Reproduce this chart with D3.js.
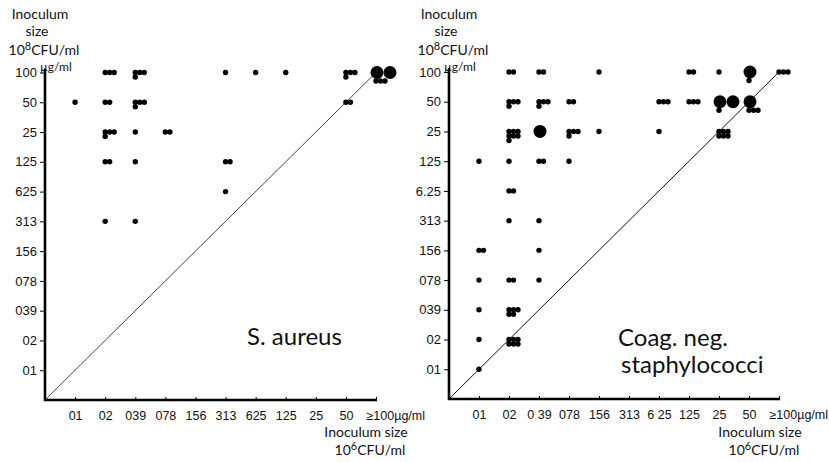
<!DOCTYPE html>
<html>
<head>
<meta charset="utf-8">
<script src="https://cdn.jsdelivr.net/npm/d3@7"></script>
<style>
  body { margin: 0; background: #fff; }
  svg { display: block; font-family: Lato, "DejaVu Sans", sans-serif; }
  text { fill: #111; }
</style>
</head>
<body>
<svg id="chart" width="829" height="462"></svg>
<script>
// tick labels as printed (decimal points lost in the original print)
var xLabelsAureus = ["01", "02", "039", "078", "156", "313", "625", "125", "25", "50", "\u2265100\u00b5g/ml"];
var yLabelsAureus = ["01", "02", "039", "078", "156", "313", "625", "125", "25", "50", "100"];
var xLabelsCoag = ["01", "02", "0 39", "078", "156", "313", "6 25", "125", "25", "50", "\u2265100\u00b5g/ml"];
var yLabelsCoag = ["01", "02", "039", "078", "156", "313", "6.25", "125", "25", "50", "100"];

// [x step, y step, small dots, big dots]  (step 1 = 0.1 ... step 11 = 100)
var aureusCells = [
    [2, 11, 3, 0], [3, 11, 4, 0], [6, 11, 1, 0], [7, 11, 1, 0], [8, 11, 1, 0], [10, 11, 4, 0], [11, 11, 3, 2],
    [1, 10, 1, 0], [2, 10, 2, 0], [3, 10, 4, 0], [10, 10, 2, 0],
    [2, 9, 4, 0], [3, 9, 1, 0], [4, 9, 2, 0],
    [2, 8, 2, 0], [3, 8, 1, 0], [6, 8, 2, 0],
    [6, 7, 1, 0],
    [2, 6, 1, 0], [3, 6, 1, 0]
];
var coagCells = [
    [2, 11, 2, 0], [3, 11, 2, 0], [5, 11, 1, 0], [8, 11, 2, 0], [9, 11, 1, 0], [10, 11, 1, 1], [11, 11, 3, 0],
    [2, 10, 4, 0], [3, 10, 4, 0], [4, 10, 2, 0], [7, 10, 3, 0], [8, 10, 3, 0], [9, 10, 1, 2], [10, 10, 3, 1],
    [2, 9, 7, 0], [3, 9, 0, 1], [4, 9, 4, 0], [5, 9, 1, 0], [7, 9, 1, 0], [9, 9, 6, 0],
    [1, 8, 1, 0], [2, 8, 1, 0], [3, 8, 2, 0], [4, 8, 1, 0],
    [2, 7, 2, 0],
    [2, 6, 1, 0], [3, 6, 1, 0],
    [1, 5, 2, 0], [3, 5, 1, 0],
    [1, 4, 1, 0], [2, 4, 2, 0], [3, 4, 1, 0],
    [1, 3, 1, 0], [2, 3, 5, 0],
    [1, 2, 1, 0], [2, 2, 6, 0],
    [1, 1, 1, 0]
];

var svg = d3.select("#chart");

function panel(opts) {
    var x = d3.scaleLinear().domain([0, 11]).range([opts.left, opts.right]);
    var y = d3.scaleLinear().domain([0, 11]).range([opts.bottom, opts.top]);
    var g = svg.append("g");

    // header: Inoculum size 10^8 CFU/ml
    g.append("text").attr("font-size", 14).attr("text-anchor", "middle")
        .attr("x", opts.headX).attr("y", 19).text("Inoculum");
    g.append("text").attr("font-size", 14).attr("text-anchor", "middle")
        .attr("x", opts.headX - 3).attr("y", 36).text("size");
    var h3 = g.append("text").attr("font-size", 14).attr("text-anchor", "middle")
        .attr("x", opts.headX + 4).attr("y", 55);
    h3.append("tspan").text("10");
    h3.append("tspan").attr("dy", -5).attr("font-size", 11).text("8");
    h3.append("tspan").attr("dy", 5).text("CFU/ml");
    g.append("text").attr("font-size", 12)
        .attr("x", opts.left - 5).attr("y", 71).text("\u00b5g/ml");

    // diagonal
    g.append("line")
        .attr("x1", x(0)).attr("y1", y(0))
        .attr("x2", x(11)).attr("y2", y(11))
        .attr("stroke", opts.diagColor).attr("stroke-width", 1);

    // y axis
    var yAxis = d3.axisLeft(y)
        .tickValues(d3.range(1, 12))
        .tickFormat(function (d) { return opts.yLabels[d - 1]; })
        .tickSize(5).tickSizeOuter(0).tickPadding(3);
    var ya = g.append("g").attr("transform", "translate(" + opts.left + ",0)").call(yAxis);
    ya.select(".domain").attr("stroke-width", 2.6).attr("d", "M0," + (opts.bottom + 1) + "V" + (opts.top - 4));
    ya.selectAll("text").attr("font-size", 13).attr("font-family", null).attr("fill", "#111");

    // x axis
    var xAxis = d3.axisBottom(x)
        .tickValues(d3.range(1, 12))
        .tickFormat(function (d) { return opts.xLabels[d - 1]; })
        .tickSize(-3).tickSizeOuter(0).tickPadding(11);
    var xa = g.append("g").attr("transform", "translate(0," + opts.bottom + ")").call(xAxis);
    xa.select(".domain").attr("stroke-width", 2.6).attr("d", "M" + (opts.left - 1) + ",0H" + (opts.right + 1));
    xa.selectAll("text").attr("font-size", 12.5).attr("font-family", null).attr("fill", "#111");
    xa.selectAll(".tick").filter(function (d) { return d === 11; }).select("text")
        .attr("text-anchor", "start").attr("x", -10);

    // footer: Inoculum size 10^6 CFU/ml
    g.append("text").attr("font-size", 14).attr("text-anchor", "middle")
        .attr("x", opts.footX).attr("y", 437).text("Inoculum size");
    var f2 = g.append("text").attr("font-size", 14).attr("text-anchor", "middle")
        .attr("x", opts.footX + 4).attr("y", 455);
    f2.append("tspan").text("10");
    f2.append("tspan").attr("dy", -5).attr("font-size", 11).text("6");
    f2.append("tspan").attr("dy", 5).text("CFU/ml");

    // species name
    opts.species.forEach(function (s, i) {
        g.append("text").attr("font-size", 24)
            .attr("x", opts.speciesX + (i ? 3 : 0)).attr("y", opts.speciesY + i * 27).text(s);
    });

    // dots: big dots in a row at the value, small dots in rows of three
    var dots = [];
    opts.cells.forEach(function (c) {
        var cx = x(c[0]), cy = y(c[1]);
        var k;
        for (k = 0; k < c[3]; k++) dots.push({ x: cx + 1 + k * 13, y: cy, r: 6.5 });
        for (k = 0; k < c[2]; k++) {
            if (c[3] > 0) dots.push({ x: cx + k * 4.5, y: cy + 8.5, r: 2.7 });
            else dots.push({ x: cx + (k % 3) * 4.5, y: cy + Math.floor(k / 3) * 4.5, r: 2.7 });
        }
    });
    g.append("g").selectAll("circle")
        .data(dots)
        .enter()
        .append("circle")
        .attr("cx", function (d) { return d.x; })
        .attr("cy", function (d) { return d.y; })
        .attr("r", function (d) { return d.r; })
        .attr("fill", "#000");
}

panel({
    left: 45, right: 376, bottom: 400, top: 72.5,
    headX: 40, footX: 366, diagColor: "#444",
    xLabels: xLabelsAureus, yLabels: yLabelsAureus, cells: aureusCells,
    species: ["S. aureus"], speciesX: 247, speciesY: 345
});
panel({
    left: 449, right: 779, bottom: 399, top: 72,
    headX: 449, footX: 760, diagColor: "#111",
    xLabels: xLabelsCoag, yLabels: yLabelsCoag, cells: coagCells,
    species: ["Coag. neg.", "staphylococci"], speciesX: 618, speciesY: 346
});
</script>
</body>
</html>
